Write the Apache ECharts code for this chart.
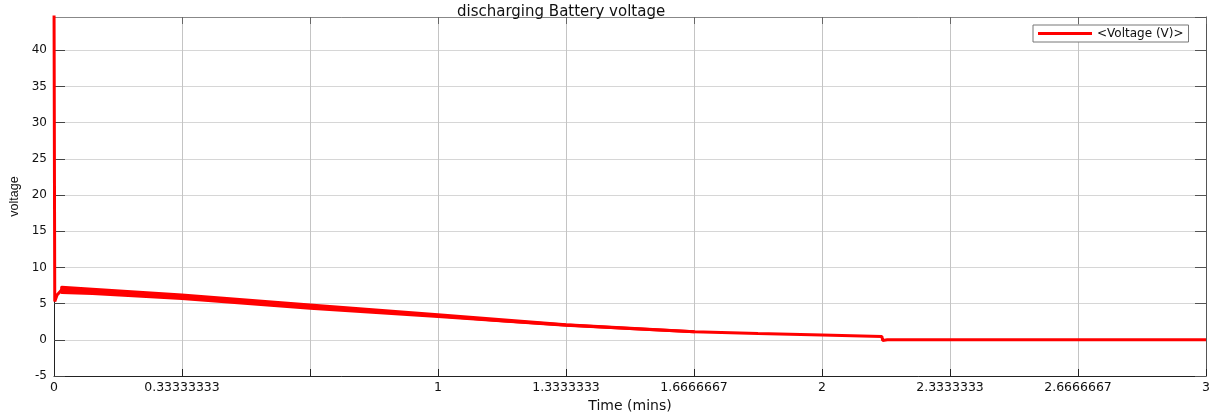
<!DOCTYPE html>
<html>
<head>
<meta charset="utf-8">
<title>discharging Battery voltage</title>
<script src="https://cdn.jsdelivr.net/npm/echarts@6/dist/echarts.min.js"></script>
<style>
  html, body { margin: 0; padding: 0; background: #fff; }
  #chart { width: 1211px; height: 413px; }
</style>
</head>
<body>
<div id="chart"></div>
<script>
// Battery discharge trace: time in minutes, terminal voltage in volts
const time    = [0,    0.002, 0.008, 0.02, 0.05, 0.1,  0.2,  0.333, 0.5,  0.667, 0.833, 1.0,  1.167, 1.333, 1.5,  1.667, 1.833, 2.0,  2.156, 2.158, 2.17, 3.0];
const voltage = [48,   5.3,   6.2,   6.9,  6.85, 6.7,  6.4,  5.96,  5.27, 4.58,  3.95,  3.33, 2.65,  2.04,  1.55, 1.11,  0.86,  0.65, 0.45,  -0.1,  0,    0];

// Envelope of the switching ripple riding on the trace
const rippleTime = [0.02, 0.1,  0.333, 0.667, 1.0,  1.333, 1.667];
const rippleHigh = [7.25, 7.0,  6.2,   4.8,   3.45, 2.08,  1.11];
const rippleLow  = [6.55, 6.4,  5.72,  4.36,  3.21, 2.0,   1.11];

// Axis ticks
const xTickLabels = ['0', '0.33333333', '', '1', '1.3333333', '1.6666667', '2', '2.3333333', '2.6666667', '3'];
const yMin = -5, yMax = 44.6, yStep = 5;
const xMin = 0, xMax = 3, xStep = 1 / 3;

const seriesName = '<Voltage (V)>';
const red = '#ff0000';
const font = 'DejaVu Sans';

const chart = echarts.init(document.getElementById('chart'), null, { renderer: 'canvas' });

const xLabel = v => {
  const i = Math.round(v / xStep);
  return xTickLabels[i] !== undefined ? xTickLabels[i] : '';
};

chart.setOption({
  animation: false,
  backgroundColor: '#ffffff',
  title: {
    text: 'discharging Battery voltage',
    left: 452,
    top: 0,
    textStyle: { fontFamily: font, fontSize: 15, fontWeight: 'normal', color: '#111' }
  },
  legend: {
    data: [seriesName],
    left: 1033,
    top: 25,
    padding: [2, 5, 2, 5],
    icon: 'rect',
    itemWidth: 54,
    itemHeight: 3,
    itemGap: 4,
    backgroundColor: '#ffffff',
    borderColor: '#777',
    borderWidth: 1,
    borderRadius: 0,
    textStyle: { fontFamily: font, fontSize: 12, color: '#111', lineHeight: 13 }
  },
  grid: { left: 54, right: 5, top: 17, bottom: 37, containLabel: false, outerBoundsMode: 'none' },
  xAxis: [{
    type: 'value',
    min: xMin, max: xMax, interval: xStep,
    name: 'Time (mins)',
    nameLocation: 'middle',
    nameGap: 20,
    nameTextStyle: { fontFamily: font, fontSize: 14, color: '#111' },
    axisLine: { show: true, onZero: false, lineStyle: { color: '#222', width: 1 } },
    axisTick: { show: true, inside: true, length: 7, lineStyle: { color: '#222' } },
    axisLabel: { fontFamily: font, fontSize: 12.5, color: '#111', margin: 5, formatter: xLabel },
    splitLine: { show: true, lineStyle: { color: '#c4c4c4', width: 1 } }
  }, {
    type: 'value', position: 'top',
    min: xMin, max: xMax, interval: xStep,
    axisLine: { show: true, onZero: false, lineStyle: { color: '#888', width: 1 } },
    axisTick: { show: true, inside: true, length: 7, lineStyle: { color: '#666' } },
    axisLabel: { show: false },
    splitLine: { show: false }
  }],
  yAxis: [{
    type: 'value',
    min: yMin, max: yMax, interval: yStep,
    name: 'voltage',
    nameLocation: 'middle',
    nameRotate: 90,
    nameGap: 32,
    nameTextStyle: { fontFamily: 'Liberation Sans', fontSize: 12.5, color: '#111', padding: [0, 0, 0, 0] },
    axisLine: { show: true, onZero: false, lineStyle: { color: '#222', width: 1 } },
    axisTick: { show: true, inside: true, length: 11, lineStyle: { color: '#444' } },
    axisLabel: { fontFamily: font, fontSize: 12, color: '#111', margin: 7, showMaxLabel: false },
    splitLine: { show: true, lineStyle: { color: '#d6d6d6', width: 1 } }
  }, {
    type: 'value', position: 'right',
    min: yMin, max: yMax, interval: yStep,
    axisLine: { show: true, onZero: false, lineStyle: { color: '#555', width: 1 } },
    axisTick: { show: true, inside: true, length: 11, lineStyle: { color: '#555' } },
    axisLabel: { show: false },
    splitLine: { show: false }
  }],
  series: [{
    name: 'ripple',
    type: 'custom',
    silent: true,
    z: 3,
    encode: { x: 0, y: [1, 2] },
    data: rippleTime.map((t, i) => [t, rippleHigh[i], rippleLow[i]]),
    renderItem: (params, api) => {
      if (params.dataIndex !== 0) return null;
      const top = rippleTime.map((t, i) => api.coord([t, rippleHigh[i]]));
      const bottom = rippleTime.map((t, i) => api.coord([t, rippleLow[i]])).reverse();
      return {
        type: 'polygon',
        shape: { points: top.concat(bottom) },
        style: { fill: red, stroke: red, lineWidth: 3, lineJoin: 'round' }
      };
    }
  }, {
    name: seriesName,
    type: 'line',
    z: 4,
    data: time.map((t, i) => [t, voltage[i]]),
    symbol: 'none',
    clip: true,
    lineStyle: { color: red, width: 3 },
    itemStyle: { color: red }
  }]
});
</script>
</body>
</html>
